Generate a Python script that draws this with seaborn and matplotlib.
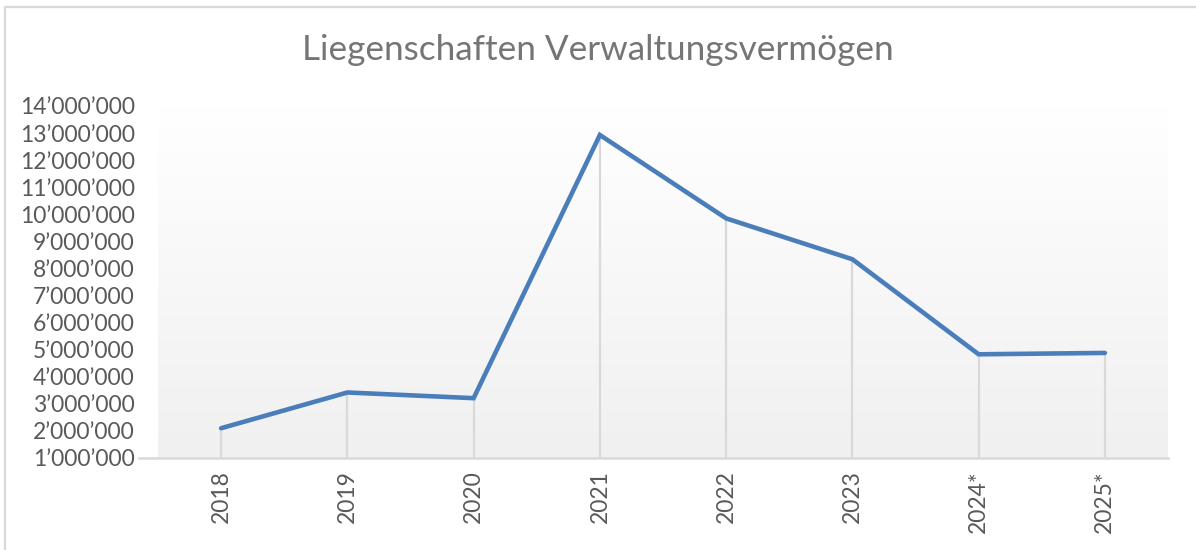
import matplotlib
matplotlib.use("Agg")
import matplotlib.pyplot as plt
from matplotlib.patches import Rectangle
from matplotlib.ticker import FuncFormatter, MultipleLocator
import numpy as np
import pandas as pd
import seaborn as sns

# Werte
jahre = ["2018", "2019", "2020", "2021", "2022", "2023", "2024*", "2025*"]
werte = [2_100_000, 3_420_000, 3_210_000, 12_930_000, 9_850_000, 8_340_000, 4_830_000, 4_880_000]

TITLE = "Liegenschaften Verwaltungsvermögen"
LINE_COLOR = "#4A7EBB"
TEXT_COLOR = "#595959"
GRID_COLOR = "#D9D9D9"

sns.set_theme(style="white")
plt.rcParams["font.family"] = ["Lato", "DejaVu Sans"]

df = pd.DataFrame({"Jahr": jahre, "Wert": werte})
df["pos"] = np.arange(len(df))

fig = plt.figure(figsize=(11.96, 5.5), dpi=100)
ax = fig.add_axes([139 / 1196, 1 - 458 / 550, (1168 - 139) / 1196, (458 - 106) / 550])

ymin, ymax = 1_000_000, 14_000_000
ax.set_ylim(ymin, ymax)
ax.set_xlim(-0.5 - 19 / 126.25, len(jahre) - 0.5)

# gradient plot area (white -> light gray)
grad = np.linspace(1.0, 0.0, 256).reshape(-1, 1)
ax.imshow(grad, cmap=matplotlib.colors.LinearSegmentedColormap.from_list("g", ["#F0F0F0", "#FFFFFF"]),
          extent=[-0.5, len(jahre) - 0.5, ymin, ymax], aspect="auto", origin="upper", zorder=0)

# drop lines
ax.vlines(df["pos"], ymin, df["Wert"], color=GRID_COLOR, lw=1.6, zorder=1)

sns.lineplot(data=df, x="pos", y="Wert", color=LINE_COLOR, lw=3.3, ax=ax, zorder=3,
             solid_capstyle="round", solid_joinstyle="miter")

ax.yaxis.set_major_locator(MultipleLocator(1_000_000))
ax.yaxis.set_major_formatter(FuncFormatter(lambda v, p: f"{v:,.0f}".replace(",", "\u2019")))
ax.set_xticks(df["pos"])
ax.set_xticklabels(jahre, rotation=90)

ax.tick_params(axis="y", length=0, pad=3, labelsize=16.5, labelcolor=TEXT_COLOR)
ax.tick_params(axis="x", length=0, pad=9, labelsize=16.5, labelcolor=TEXT_COLOR)
ax.set_xlabel("")
ax.set_ylabel("")

for s in ["top", "right", "left"]:
    ax.spines[s].set_visible(False)
ax.spines["bottom"].set_color(GRID_COLOR)
ax.spines["bottom"].set_linewidth(1.8)

fig.text(0.5, 1 - 50 / 550, TITLE, ha="center", va="center", fontsize=25.3, color="#757575")

# chart area border (only top and left visible in the crop)
fig.patches.append(Rectangle((5 / 1196, -0.1), 1.2, 1.1 - 7 / 550, transform=fig.transFigure,
                             fill=False, edgecolor=GRID_COLOR, lw=1.6))

fig.savefig("out.png", dpi=100)
